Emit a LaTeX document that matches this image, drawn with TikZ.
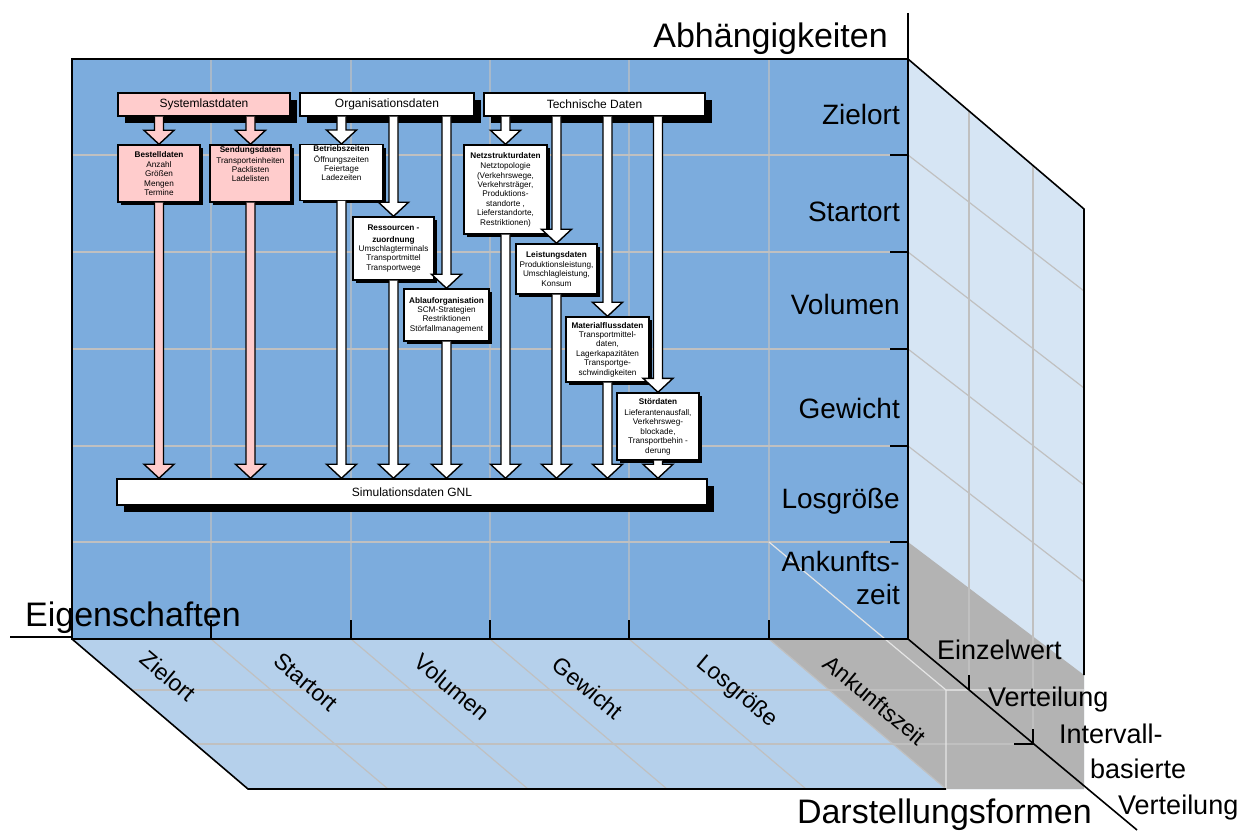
\documentclass[tikz,border=0pt]{standalone}
\usepackage{fontspec}
\setmainfont{Liberation Sans}
\usetikzlibrary{calc,shadows}

\definecolor{facecol}{RGB}{124,172,221}
\definecolor{sidecol}{RGB}{214,229,244}
\definecolor{floorcol}{RGB}{181,208,235}
\definecolor{shadecol}{RGB}{179,179,179}
\definecolor{gridcol}{RGB}{192,192,192}
\definecolor{pinkcol}{RGB}{255,204,204}

% block arrow from #2 down to #3
\newcommand\flowarrow[3][white]{%
  \draw[line width=1.4pt, fill=#1, line join=miter] let \p1=(#2), \p2=(#3) in
    (\x1-4.5pt,\y1) -- (\x1-4.5pt,\y2+14pt) -- (\x1-15pt,\y2+14pt) -- (\x1,\y2)
    -- (\x1+15pt,\y2+14pt) -- (\x1+4.5pt,\y2+14pt) -- (\x1+4.5pt,\y1);}

\begin{document}
\begin{tikzpicture}[x=1pt, y=-1pt,
  topbox/.style={draw, line width=1.5pt, inner sep=0pt, minimum height=23pt,
    font=\fontsize{12}{14}\selectfont,
    drop shadow={shadow xshift=7pt, shadow yshift=-7pt, fill=black, opacity=1}},
  databox/.style={draw, line width=1.4pt, inner sep=1pt, align=center,
    font=\fontsize{8.2}{9.4}\selectfont,
    drop shadow={shadow xshift=3pt, shadow yshift=-3pt, fill=black, opacity=1}},
  axislabel/.style={font=\fontsize{34}{40}\selectfont, inner sep=0pt},
  proplabel/.style={font=\fontsize{28}{33}\selectfont, inner sep=0pt},
  floorlabel/.style={font=\fontsize{23}{27}\selectfont, inner sep=0pt, rotate=-40},
  formlabel/.style={font=\fontsize{27}{32}\selectfont, inner sep=0pt, anchor=base west},
  gridline/.style={draw=gridcol, line width=1.2pt},
  frame/.style={line width=1.6pt}]
  \useasboundingbox (0,0) rectangle (1256,834);

  % faces of the cube
  \fill[floorcol] (72,639) -- (908,639) -- (1084,789) -- (248,789) -- cycle;
  \fill[sidecol] (908,59) -- (1084,209) -- (1084,789) -- (908,639) -- cycle;
  \fill[shadecol] (769,639) -- (908,639) -- (908,542) -- (1084,675) -- (1084,789) -- (946,789) -- cycle;
  \fill[facecol] (72,59) rectangle (908,639);

  % grid
  \foreach \x in {211,351,490,629,769}
    \draw[gridline] (\x,59) -- (\x,639) -- (\x+177,789);
  \foreach \y in {155,252,349,446,542}
    \draw[gridline] (72,\y) -- (908,\y);
  \foreach \y in {155,252,349,446}
    \draw[gridline] (908,\y) -- (1084,\y+136);
  \draw[gridline] (132,690) -- (968,690);
  \draw[gridline] (195,744) -- (1031,744);
  \draw[gridline] (969,112) -- (969,690);
  \draw[gridline] (1033,166) -- (1033,744);
  \draw[draw=gray!20, line width=1.2pt] (769,542) -- (946,690) -- (1084,690) (946,690) -- (946,789);

  % frame and axes
  \draw[line width=2.2pt] (72,59) rectangle (908,639);
  \draw[frame] (908,59) -- (1084,209) -- (1084,675);
  \draw[frame] (72,639) -- (248,789) -- (946,789);
  \draw[frame] (908,13) -- (908,59);
  \draw[frame] (10,637) -- (72,637);
  \draw[frame] (908,639) -- (1137,830);
  \foreach \y in {155,252,349,446,542}
    \draw[frame] (890,\y) -- (908,\y);
  \foreach \x in {211,351,490,629,769}
    \draw[frame] (\x,620) -- (\x,639);
  \draw[line width=1.4pt] (969,675) -- (969,690) (1033,729) -- (1033,744) -- (1014,744);

  % axis labels
  \node[axislabel, anchor=base east] (dep) at (888,48) {Abhängigkeiten};
  \node[axislabel, anchor=base west] (prop) at (25,626) {Eigenschaften};
  \node[axislabel, anchor=base east] (form) at (1092,823) {Darstellungsformen};
  \foreach \t/\y [count=\i] in {Zielort/125,Startort/222,Volumen/315,Gewicht/418,Losgröße/508}
    \node[proplabel, anchor=base east] (r\i) at (900,\y) {\t};
  \node[proplabel, anchor=east, align=right] (r6) at (900,578) {Ankunfts-\\zeit};
  \foreach \t/\x/\y [count=\i] in {Zielort/168/676,Startort/306/682,Volumen/452/687,
      Gewicht/588/688,Losgröße/737/692,Ankunftszeit/875/700}
    \node[floorlabel] (f\i) at (\x,\y) {\t};
  \node[formlabel] (d1) at (937,659) {Einzelwert};
  \node[formlabel] (d2) at (988,706) {Verteilung};
  \node[formlabel] (d3) at (1059,743) {Intervall-};
  \node[formlabel] (d4) at (1090,778) {basierte};
  \node[formlabel] (d5) at (1118,814) {Verteilung};

  % data sources
  \node[topbox, fill=pinkcol, minimum width=172pt] (sys) at (204,104.5) {Systemlastdaten};
  \node[topbox, fill=white, minimum width=174pt] (org) at (387,104.5) {Organisationsdaten};
  \node[topbox, fill=white, minimum width=221pt] (tech) at (594.5,104.5) {Technische Daten};
  \node[topbox, fill=white, minimum width=590pt, minimum height=26pt] (sim) at (412,492) {Simulationsdaten GNL};

  \node[databox, fill=pinkcol, minimum width=82pt, minimum height=57pt] (bes) at (159,173.5)
    {\textbf{Bestelldaten}\\[1pt] Anzahl\\ Größen\\ Mengen\\ Termine};
  \node[databox, fill=pinkcol, minimum width=81pt, minimum height=57pt] (send) at (250.5,173.5)
    {\textbf{Sendungsdaten}\\[1pt] Transporteinheiten\\ Packlisten\\ Ladelisten\\[9pt]};
  \node[databox, fill=white, minimum width=83pt, minimum height=55pt] (betr) at (341.5,172.5)
    {\textbf{Betriebszeiten}\\[1pt] Öffnungszeiten\\ Feiertage\\ Ladezeiten\\[9pt]};
  \node[databox, fill=white, minimum width=81pt, minimum height=63pt] (res) at (393.5,248.5)
    {\textbf{Ressourcen -}\\[2pt] \textbf{zuordnung}\\ Umschlagterminals\\ Transportmittel\\ Transportwege};
  \node[databox, fill=white, minimum width=85pt, minimum height=52pt] (abl) at (446.5,315)
    {\textbf{Ablauforganisation}\\ SCM-Strategien\\ Restriktionen\\ Störfallmanagement};
  \node[databox, fill=white, minimum width=83pt, minimum height=89pt] (netz) at (505.5,189.5)
    {\textbf{Netzstrukturdaten}\\[1pt] Netztopologie\\ (Verkehrswege,\\ Verkehrsträger,\\ Produktions-\\
     standorte ,\\ Lieferstandorte,\\ Restriktionen)};
  \node[databox, fill=white, minimum width=81pt, minimum height=50pt] (leist) at (556.5,269)
    {\textbf{Leistungsdaten}\\ Produktionsleistung,\\ Umschlagleistung,\\ Konsum};
  \node[databox, fill=white, minimum width=83pt, minimum height=65pt] (mat) at (607.5,349.5)
    {\textbf{Materialflussdaten}\\ Transportmittel-\\ daten,\\ Lagerkapazitäten\\ Transportge-\\ schwindigkeiten};
  \node[databox, fill=white, minimum width=82pt, minimum height=67pt] (stoer) at (658,426.5)
    {\textbf{Stördaten}\\[2pt] Lieferantenausfall,\\ Verkehrsweg-\\ blockade,\\ Transportbehin -\\ derung};

  % flows
  \flowarrow[pinkcol]{sys.south -| bes.north}{bes.north}
  \flowarrow[pinkcol]{sys.south -| send.north}{send.north}
  \foreach \b in {betr,res,abl} {\flowarrow{org.south -| \b.north}{\b.north}}
  \foreach \b in {netz,leist,mat,stoer} {\flowarrow{tech.south -| \b.north}{\b.north}}
  \foreach \b in {bes,send} {\flowarrow[pinkcol]{\b.south}{\b.south |- sim.north}}
  \foreach \b in {betr,res,abl,netz,leist,mat,stoer} {\flowarrow{\b.south}{\b.south |- sim.north}}
\end{tikzpicture}
\end{document}
